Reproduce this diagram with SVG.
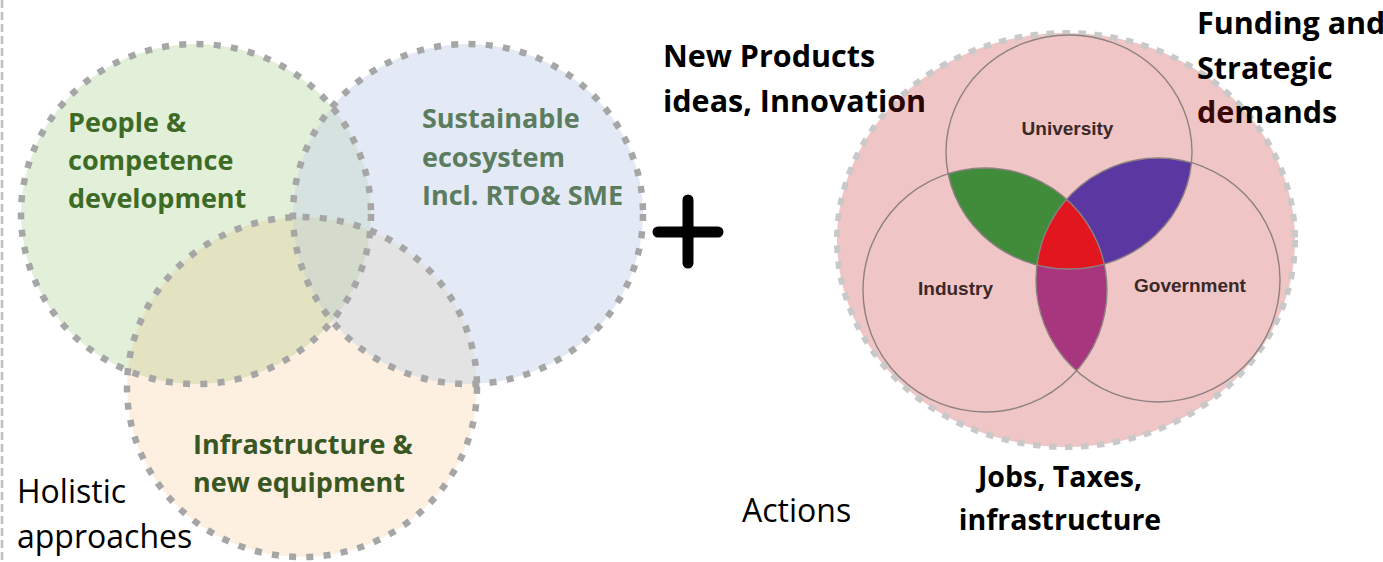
<svg xmlns="http://www.w3.org/2000/svg" width="1383" height="562" viewBox="0 0 1383 562">
<style>
.dot{fill:none;stroke:#a6a6a6;stroke-width:6.5;stroke-dasharray:7 10.3}
.gt{font-family:"Open Sans","Liberation Sans",sans-serif;font-weight:bold;font-size:27px}
.bt{font-family:"Open Sans","Liberation Sans",sans-serif;font-weight:bold;font-size:30.5px;fill:#000}
.bt2{font-family:"Open Sans","Liberation Sans",sans-serif;font-weight:bold;font-size:28.5px;fill:#000}
.nt{font-family:"Open Sans","Liberation Sans",sans-serif;font-size:32px;fill:#000}
.vl{font-family:"Liberation Sans",Arial,sans-serif;font-weight:bold;font-size:19px;fill:#3b2828}
.ring{fill:none;stroke:#8e8080;stroke-width:1.4}
</style>
<defs>
<clipPath id="cGreen"><ellipse cx="196" cy="214" rx="175" ry="170"/></clipPath>
<clipPath id="cBlue"><ellipse cx="468" cy="214" rx="175" ry="170"/></clipPath>
<clipPath id="cU"><ellipse cx="1069" cy="152" rx="123" ry="117"/></clipPath>
<clipPath id="cI"><circle cx="985" cy="290" r="122"/></clipPath>
<clipPath id="cG"><circle cx="1158" cy="280" r="122"/></clipPath>
</defs>
<rect width="1383" height="562" fill="#fff"/>
<line x1="2" y1="0" x2="2" y2="562" stroke="#bfbfbf" stroke-width="2.5" stroke-dasharray="8 4"/>

<g id="holistic-venn">
<g id="fills">
<ellipse cx="302" cy="387" rx="175" ry="170" fill="#fdf0e1"/>
<ellipse cx="196" cy="214" rx="175" ry="170" fill="#e2efd9"/>
<ellipse cx="468" cy="214" rx="175" ry="170" fill="#e3e9f5"/>
<g clip-path="url(#cGreen)"><ellipse cx="302" cy="387" rx="175" ry="170" fill="#e3e3c2"/><ellipse cx="468" cy="214" rx="175" ry="170" fill="#d5e2e0"/></g>
<g clip-path="url(#cBlue)"><ellipse cx="302" cy="387" rx="175" ry="170" fill="#e3e3e3"/></g>
<g clip-path="url(#cGreen)"><g clip-path="url(#cBlue)"><ellipse cx="302" cy="387" rx="175" ry="170" fill="#d4dbcd"/></g></g>
</g>
<g id="node-infrastructure"><ellipse class="dot" cx="302" cy="387" rx="175" ry="170"/>
<text class="gt" fill="#385723"><tspan x="193" y="454">Infrastructure &amp;</tspan><tspan x="193" y="492">new equipment</tspan></text></g>
<g id="node-people"><ellipse class="dot" cx="196" cy="214" rx="175" ry="170"/>
<text class="gt" fill="#3d6b26"><tspan x="68" y="132">People &amp;</tspan><tspan x="68" y="170">competence</tspan><tspan x="68" y="208">development</tspan></text></g>
<g id="node-sustainable"><ellipse class="dot" cx="468" cy="214" rx="175" ry="170"/>
<text class="gt" fill="#5b7c5e"><tspan x="422" y="128">Sustainable</tspan><tspan x="422" y="167">ecosystem</tspan><tspan x="422" y="205">Incl. RTO&amp; SME</tspan></text></g>
<text id="label-holistic" class="nt"><tspan x="17" y="503">Holistic</tspan><tspan x="17" y="548">approaches</tspan></text>
</g>

<g id="plus"><path d="M658 232H718M688 200V263" stroke="#000" stroke-width="11" stroke-linecap="round" fill="none"/></g>

<g id="triple-helix">
<ellipse cx="1066" cy="240" rx="229" ry="207" fill="#efc5c5" stroke="#c9c9c9" stroke-width="6" stroke-dasharray="7.5 8.5"/>
<g clip-path="url(#cU)"><circle cx="985" cy="290" r="122" fill="#418c3b"/><circle cx="1158" cy="280" r="122" fill="#5b37a2"/></g>
<g clip-path="url(#cI)"><circle cx="1158" cy="280" r="122" fill="#a8367f"/></g>
<g clip-path="url(#cI)"><g clip-path="url(#cG)"><ellipse cx="1069" cy="152" rx="123" ry="117" fill="#e2161f"/></g></g>
<g id="node-university"><ellipse class="ring" cx="1069" cy="152" rx="123" ry="117"/><text class="vl" x="1067.5" y="135" text-anchor="middle">University</text></g>
<g id="node-industry"><circle class="ring" cx="985" cy="290" r="122"/><text class="vl" x="955.5" y="295" text-anchor="middle">Industry</text></g>
<g id="node-government"><circle class="ring" cx="1158" cy="280" r="122"/><text class="vl" x="1190" y="292" text-anchor="middle">Government</text></g>
</g>

<g id="labels">
<text class="bt"><tspan x="663" y="67">New Products</tspan><tspan x="663" y="112">ideas, Innovati<tspan fill="#2b0505">on</tspan></tspan></text>
<text class="bt"><tspan x="1197" y="34">Funding and</tspan><tspan x="1197" y="79">Strategic</tspan><tspan x="1197" y="123"><tspan fill="#3a0606">de</tspan>mands</tspan></text>
<text class="bt2" text-anchor="middle"><tspan x="1060" y="487">Jobs, Taxes,</tspan><tspan x="1060" y="530">infrastructure</tspan></text>
<text class="nt" x="742" y="522">Actions</text>
</g>
</svg>
